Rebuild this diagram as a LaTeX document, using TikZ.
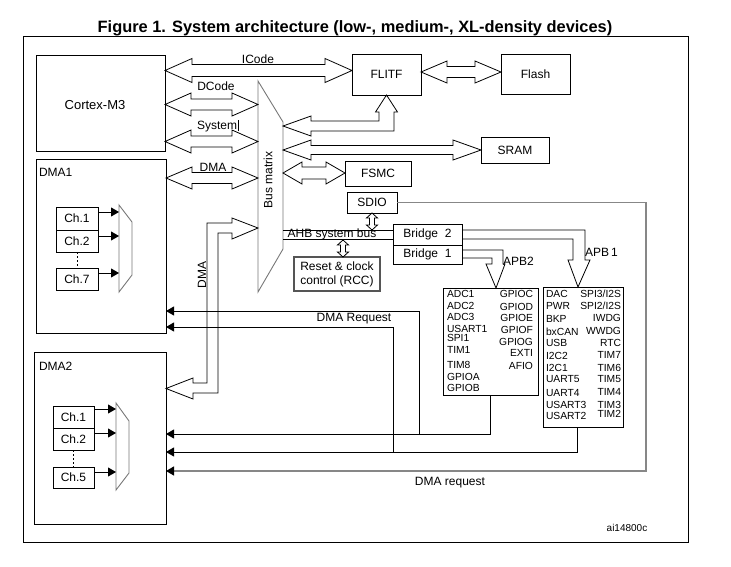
\documentclass[tikz,border=0pt]{standalone}
\usepackage{fontspec}
\setmainfont{Liberation Sans}
\usetikzlibrary{calc,arrows.meta}

\newcommand\boxfont{\fontsize{12}{14}\selectfont}
\newcommand\cpufont{\fontsize{13}{15}\selectfont}
\newcommand\perfont{\fontsize{10.3}{12}\selectfont}
\newcommand\tagfont{\fontsize{10}{12}\selectfont}
\newcommand\headfont{\fontsize{16.4}{19}\selectfont\bfseries}

% hollow double-headed block arrow, horizontal
% #1 left tip, #2 right tip, #3 half body width, #4 half head width, #5 head length
\newcommand\hdoublearrow[5]{%
  \draw[blockarrow] let \p1=#1, \p2=#2 in
    (\p1) -- (\x1+#5pt,\y1+#4pt) -- (\x1+#5pt,\y1+#3pt) -- (\x2-#5pt,\y1+#3pt)
    -- (\x2-#5pt,\y1+#4pt) -- (\p2) -- (\x2-#5pt,\y1-#4pt) -- (\x2-#5pt,\y1-#3pt)
    -- (\x1+#5pt,\y1-#3pt) -- (\x1+#5pt,\y1-#4pt) -- cycle;}

% hollow double-headed block arrow, vertical
% #1 top tip, #2 bottom tip, #3 half body width, #4 half head width, #5 head length
\newcommand\vdoublearrow[5]{%
  \draw[blockarrow] let \p1=#1, \p2=#2 in
    (\p1) -- (\x1+#4pt,\y1-#5pt) -- (\x1+#3pt,\y1-#5pt) -- (\x1+#3pt,\y2+#5pt)
    -- (\x1+#4pt,\y2+#5pt) -- (\p2) -- (\x1-#4pt,\y2+#5pt) -- (\x1-#3pt,\y2+#5pt)
    -- (\x1-#3pt,\y1-#5pt) -- (\x1-#4pt,\y1-#5pt) -- cycle;}

\definecolor{muxgray}{RGB}{120,120,120}
\definecolor{reqgray}{RGB}{135,135,135}
\definecolor{rccgray}{RGB}{85,85,85}

\begin{document}
\begin{tikzpicture}[x=1pt,y=-1pt,
  every node/.style={inner sep=0pt, outer sep=0pt},
  box/.style={draw, line width=0.8pt, font=\boxfont},
  lab/.style={font=\boxfont, text height=8.6pt, text depth=0pt},
  per/.style={font=\perfont, text height=7.3pt, text depth=0pt},
  blockarrow/.style={draw, line width=0.8pt, line join=miter},
  thin/.style={line width=0.8pt},
  dreq/.style={line width=0.8pt, -{Triangle[length=8pt,width=9pt]}},
  charrow/.style={line width=0.8pt, -{Triangle[length=8pt,width=9pt]}},
  muxshape/.style={draw=muxgray, line width=0.9pt},
]
\useasboundingbox (0,0) rectangle (731,566);

% heading and frame
\node[font=\headfont, text height=11.7pt, text depth=0pt] (title) at (355,26.2) {Figure 1. System architecture (low-, medium-, XL-density devices)};
\draw[line width=0.9pt] (23,36.5) rectangle (688,542);

% masters
\node[box, minimum width=129pt, minimum height=96pt] (cortex) at (100.5,103) {};
\node[lab, font=\cpufont, text height=9.3pt] at (95,105) {Cortex-M3};
\node[box, minimum width=130pt, minimum height=174pt] (dma1) at (101,246) {};
\node[lab, anchor=west] at (39,172) {DMA1};
\node[box, minimum width=132pt, minimum height=172pt] (dma2) at (100,438) {};
\node[lab, anchor=west] at (39,366) {DMA2};

% DMA1 channels and multiplexer
\node[box, minimum width=42pt, minimum height=23pt] (ca1) at (77,218.5) {Ch.1};
\node[box, minimum width=42pt, minimum height=22pt] (ca2) at (77,241) {Ch.2};
\node[box, minimum width=42pt, minimum height=22pt] (ca7) at (77,279) {Ch.7};
\coordinate (muxa) at (119,205);
\draw[muxshape] (muxa) -- (132,222) -- (132,275) -- (119,292) -- cycle;
\draw[line width=0.8pt, dash pattern=on 2pt off 2pt] (ca2.south) -- (ca7.north);
\draw[charrow] (ca1.east |- 0,212) -- (muxa |- 0,212);
\draw[charrow] (ca2.east |- 0,236) -- (muxa |- 0,236);
\draw[charrow] (ca7.east |- 0,273) -- (muxa |- 0,273);

% DMA2 channels and multiplexer
\node[box, minimum width=41pt, minimum height=22pt] (cb1) at (73.5,417) {Ch.1};
\node[box, minimum width=41pt, minimum height=22pt] (cb2) at (73.5,439) {Ch.2};
\node[box, minimum width=41pt, minimum height=21pt] (cb5) at (73.5,477.5) {Ch.5};
\coordinate (muxb) at (116,403);
\draw[muxshape] (muxb) -- (129,421) -- (129,473) -- (116,490) -- cycle;
\draw[line width=0.8pt, dash pattern=on 2pt off 2pt] (cb2.south) -- (cb5.north);
\draw[charrow] (cb1.east |- 0,409) -- (muxb |- 0,409);
\draw[charrow] (cb2.east |- 0,433) -- (muxb |- 0,433);
\draw[charrow] (cb5.east |- 0,472) -- (muxb |- 0,472);

% bus matrix
\coordinate (bmL) at (258,81);
\coordinate (bmR) at (283,122);
\draw[muxshape] (bmL) -- (bmR) -- (283,249) -- (258,292) -- cycle;
\node[font=\boxfont, rotate=90] at (268,180) {Bus matrix};

% slaves
\node[box, minimum width=69pt, minimum height=41pt] (flitf) at (386.5,74.5) {FLITF};
\node[box, minimum width=69pt, minimum height=40pt] (flash) at (535.5,74) {Flash};
\node[box, minimum width=68pt, minimum height=26pt] (sram) at (515,150) {SRAM};
\node[box, minimum width=66pt, minimum height=25pt] (fsmc) at (378,173.5) {FSMC};
\node[box, minimum width=50pt, minimum height=21pt] (sdio) at (372,202.5) {SDIO};
\node[box, minimum width=69pt, minimum height=21pt] (bridge2) at (427.5,234.5) {Bridge\ \ 2};
\node[box, minimum width=69pt, minimum height=19pt] (bridge1) at (427.5,254.5) {Bridge\ \ 1};
\node[draw=rccgray, line width=1.4pt, minimum width=86pt, minimum height=34pt, font=\boxfont, align=center] (rcc) at (337,274) {Reset \& clock\\control (RCC)};
\node[box, minimum width=95pt, minimum height=107pt] (apb2) at (490.5,341.5) {};
\node[box, minimum width=80pt, minimum height=140pt] (apb1) at (583,357) {};

% bus arrows on the master side
\hdoublearrow{(cortex.east |- 0,70.5)}{(flitf.west |- 0,70.5)}{6}{12}{27}
\node[lab] at (258,59) {ICode};
\hdoublearrow{(cortex.east |- 0,104.5)}{(bmL |- 0,104.5)}{5.5}{11.5}{26}
\node[lab] at (216,86) {DCode};
\hdoublearrow{(cortex.east |- 0,141.5)}{(bmL |- 0,141.5)}{5.5}{11.5}{26}
\node[lab, anchor=west] at (197,125) {System\hspace{1pt}\rule[-1.5pt]{0.6pt}{11pt}};
\hdoublearrow{(dma1.east |- 0,178)}{(bmL |- 0,178)}{5.5}{11}{26}
\node[lab] at (213,167) {DMA};

% DMA2 path through the bus matrix
\draw[blockarrow] let \p1=(bmL |- 0,228), \p2=(dma2.east |- 0,388.5) in
  (\p1) -- (\x1-26pt,\y1+10pt) -- (\x1-26pt,\y1+5pt) -- (\x1-51pt,\y1+5pt)
  -- (\x1-51pt,\y2+5.5pt) -- (\x2+27pt,\y2+5.5pt) -- (\x2+27pt,\y2+10.5pt) -- (\p2)
  -- (\x2+27pt,\y2-10.5pt) -- (\x2+27pt,\y2-4.5pt) -- (\x1-40pt,\y2-4.5pt)
  -- (\x1-40pt,\y1-5pt) -- (\x1-26pt,\y1-5pt) -- (\x1-26pt,\y1-11pt) -- cycle;
\node[font=\boxfont, rotate=90] at (202,275) {DMA};

% bus arrows on the slave side
\hdoublearrow{(flitf.east |- 0,72)}{(flash.west |- 0,72)}{5.5}{11}{26}
\draw[blockarrow] let \p1=(bmR |- 0,126), \p2=(flitf.south) in
  (\p1) -- (\x1+28pt,\y1+10pt) -- (\x1+28pt,\y1+5pt) -- (\x2-7.5pt,\y1+5pt)
  -- (\x2-7.5pt,\y2-17pt) -- (\x2-11pt,\y2-17pt) -- (\p2) -- (\x2+11pt,\y2-17pt)
  -- (\x2+7.5pt,\y2-17pt) -- (\x2+7.5pt,\y1-5pt) -- (\x1+28pt,\y1-5pt)
  -- (\x1+28pt,\y1-10pt) -- cycle;
\hdoublearrow{(bmR |- 0,150)}{(sram.west |- 0,150)}{4.5}{10}{28}
\hdoublearrow{(bmR |- 0,173)}{(fsmc.west |- 0,173)}{6}{11}{19}

% AHB system bus
\draw[thin] (bmR |- 0,230) -- (bridge2.west |- 0,230);
\draw[thin] (bmR |- 0,239) -- (bridge2.west |- 0,239);
\node[font=\boxfont] at (332,234.5) {AHB system bus};
\vdoublearrow{(sdio.south)}{(sdio.south |- 0,230)}{2.5}{5.5}{5}
\vdoublearrow{(343,240)}{(343,0 |- rcc.north)}{2.5}{5.5}{5}

% peripheral buses
\draw[thin] (bridge2.east |- 0,230) -- (585,230) -- (585,260) -- (590,260)
  -- (578,0 |- apb1.north) -- (568,260) -- (573,260) -- (573,239) -- (bridge2.east |- 0,239);
\node[font=\boxfont, anchor=west] at (585,252) {APB\,1};
\draw[thin] (bridge1.east |- 0,250) -- (503,250) -- (503,264) -- (505,264)
  -- (496,0 |- apb2.north) -- (486,264) -- (492,264) -- (492,258) -- (bridge1.east |- 0,258);
\node[font=\boxfont, anchor=west] at (503,261) {APB2};

% APB2 peripherals
\foreach \t/\y in {ADC1/294, ADC2/306, ADC3/317, USART1/329, SPI1/338, TIM1/350, TIM8/365, GPIOA/377, GPIOB/388}
  \node[per, anchor=west] at (447,\y) {\t};
\foreach \t/\y in {GPIOC/294, GPIOD/307, GPIOE/318, GPIOF/330, GPIOG/342, EXTI/353, AFIO/366}
  \node[per, anchor=east] at (533,\y) {\t};

% APB1 peripherals
\foreach \t/\y in {DAC/294, PWR/306, BKP/319, bxCAN/332, USB/343, I2C2/356, I2C1/368, UART5/379, UART4/393, USART3/405, USART2/416}
  \node[per, anchor=west] at (546,\y) {\t};
\node[per, anchor=east] at (621,294) {SPI3/I2S};
\node[per, anchor=east] at (621,306) {SPI2/I2S};
\foreach \t/\y in {IWDG/318, WWDG/331, RTC/343, TIM7/355, TIM6/368, TIM5/379, TIM4/392, TIM3/405, TIM2/414}
  \node[per, anchor=east] at (621,\y) {\t};

% DMA request lines
\draw[dreq] (apb2.south) -- (apb2.south |- 0,434) -- (dma2.east |- 0,434);
\draw[dreq] (419,434) -- (419,311) -- (dma1.east |- 0,311);
\draw[dreq] (577,0 |- apb1.south) -- (577,452) -- (dma2.east |- 0,452);
\draw[dreq] (393,452) -- (393,327) -- (dma1.east |- 0,327);
\node[font=\boxfont] at (354,319) {DMA Request};
\draw[draw=reqgray, line width=1.2pt, -{Triangle[length=8pt,width=9pt,color=black]}]
  (sdio.east) -- (646,0 |- sdio.east) -- (646,471) -- (dma2.east |- 0,471);
\node[font=\boxfont] at (450,483) {DMA request};

\node[font=\tagfont] at (627,528) {ai14800c};
\end{tikzpicture}
\end{document}
